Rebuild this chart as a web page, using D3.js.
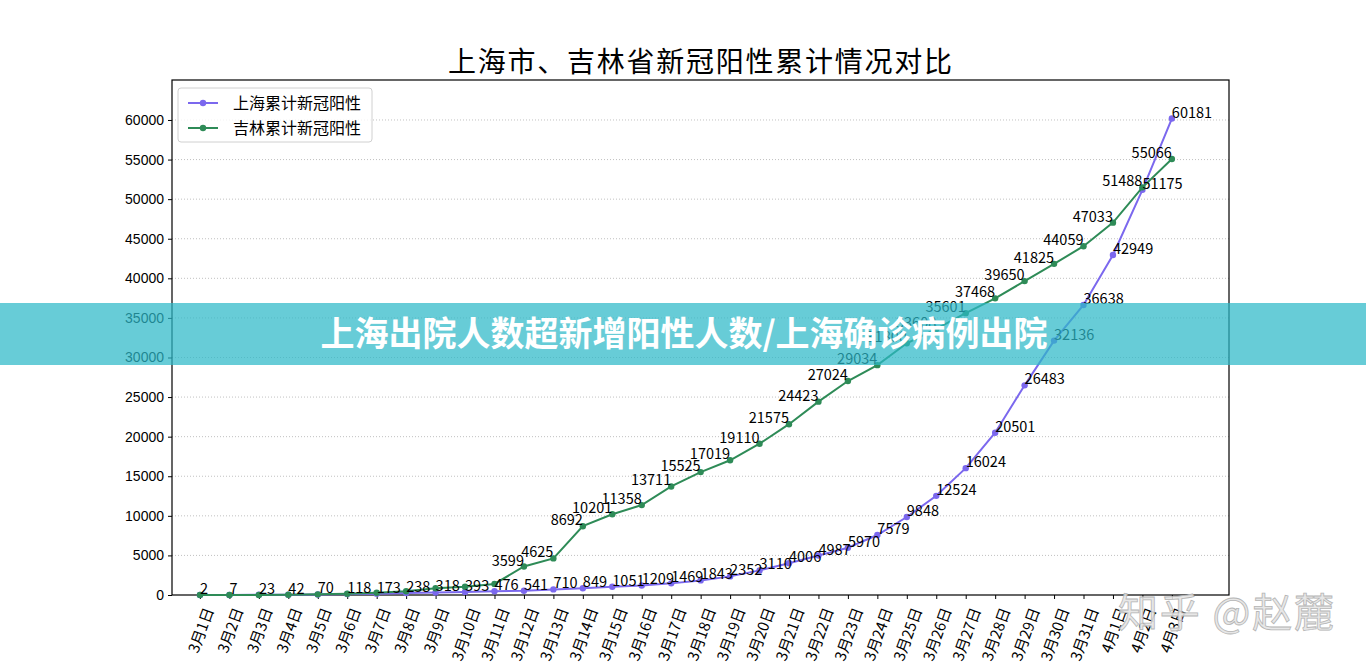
<!DOCTYPE html>
<html>
<head>
<meta charset="utf-8">
<script src="https://cdn.jsdelivr.net/npm/d3@7"></script>
<style>
  html, body { margin: 0; padding: 0; background: #fff; }
  svg { display: block; font-family: "Noto Sans CJK SC", "Noto Sans", sans-serif; }
</style>
</head>
<body>
<svg id="chart" width="1366" height="669"></svg>
<script>
// 날짜 라벨
const dates = ['3月1日','3月2日','3月3日','3月4日','3月5日','3月6日','3月7日','3月8日','3月9日','3月10日',
  '3月11日','3月12日','3月13日','3月14日','3月15日','3月16日','3月17日','3月18日','3月19日','3月20日',
  '3月21日','3月22日','3月23日','3月24日','3月25日','3月26日','3月27日','3月28日','3月29日','3月30日',
  '3月31日','4月1日','4月2日','4月3日'];

const shanghai = [2, 7, 23, 42, 70, 118, 173, 238, 318, 393, 476, 541, 710, 849, 1051, 1209, 1469, 1843,
  2352, 3110, 4006, 4987, 5970, 7579, 9848, 12524, 16024, 20501, 26483, 32136, 36638, 42949, 51175, 60181];

// 초반 값은 그림에서 추정 (라벨 없음)
const jilin = [0, 2, 8, 30, 80, 150, 280, 480, 850, 1050, 1400, 3599, 4625, 8692, 10201, 11358, 13711,
  15525, 17019, 19110, 21575, 24423, 27024, 29034, 31800, 33608, 35601, 37468, 39650, 41825, 44059,
  47033, 51488, 55066];
const jilinLabelFrom = 11;

const yTicks = [0, 5000, 10000, 15000, 20000, 25000, 30000, 35000, 40000, 45000, 50000, 55000, 60000];

const seriesNames = ['上海累计新冠阳性', '吉林累计新冠阳性'];
const colors = ['#7b68ee', '#2e8b57'];

const titleText = '上海市、吉林省新冠阳性累计情况对比';
const bannerText = '上海出院人数超新增阳性人数/上海确诊病例出院';

const W = 1366, H = 669;
const plot = { left: 172, right: 1229, top: 80, bottom: 595 };

const svg = d3.select('#chart');
svg.append('rect').attr('width', W).attr('height', H).attr('fill', '#fff');

const x = d3.scaleLinear().domain([-0.95, dates.length - 1 + 1.94]).range([plot.left, plot.right]);
const y = d3.scaleLinear().domain([0, 65050]).range([plot.bottom, plot.top]);

// title
svg.append('text').attr('x', 700).attr('y', 72).attr('text-anchor', 'middle')
  .attr('font-size', 28).attr('fill', '#000')
  .attr('textLength', 504).attr('lengthAdjust', 'spacing')
  .text(titleText);

// grid
svg.append('g').selectAll('line').data(yTicks.filter(function (d) { return d > 0; })).join('line')
  .attr('x1', plot.left).attr('x2', plot.right)
  .attr('y1', function (d) { return y(d); }).attr('y2', function (d) { return y(d); })
  .attr('stroke', '#b0b0b0').attr('stroke-width', 0.8).attr('stroke-dasharray', '1,2');

// y axis
const yAxis = svg.append('g').attr('transform', 'translate(' + plot.left + ',0)')
  .call(d3.axisLeft(y).tickValues(yTicks).tickSize(4).tickPadding(4).tickFormat(d3.format('d')));
yAxis.select('.domain').remove();
yAxis.selectAll('text').attr('font-size', 14).attr('fill', '#000').attr('font-family', 'inherit');
yAxis.selectAll('line').attr('stroke', '#000');

// x axis
const xAxis = svg.append('g').attr('transform', 'translate(0,' + plot.bottom + ')')
  .call(d3.axisBottom(x).tickValues(d3.range(dates.length)).tickSize(4).tickFormat(''));
xAxis.select('.domain').remove();
xAxis.selectAll('line').attr('stroke', '#000');

const xl = svg.append('g').selectAll('text').data(dates).join('text')
  .attr('font-size', 15).attr('fill', '#000')
  .attr('text-anchor', 'end').attr('dominant-baseline', 'central')
  .text(function (d) { return d; });
xl.attr('transform', function (d, i) {
  const L = this.getComputedTextLength();
  return 'translate(' + (x(i) + 0.171 * L) + ',' + (plot.bottom + 13) + ') rotate(-70)';
});

// frame
svg.append('rect').attr('x', plot.left).attr('y', plot.top)
  .attr('width', plot.right - plot.left).attr('height', plot.bottom - plot.top)
  .attr('fill', 'none').attr('stroke', '#000').attr('stroke-width', 1.2);

// lines
const line = d3.line().x(function (d, i) { return x(i); }).y(function (d) { return y(d); });
[shanghai, jilin].forEach(function (vals, k) {
  svg.append('path').datum(vals).attr('d', line)
    .attr('fill', 'none').attr('stroke', colors[k]).attr('stroke-width', 2);
  svg.append('g').selectAll('circle').data(vals).join('circle')
    .attr('cx', function (d, i) { return x(i); }).attr('cy', function (d) { return y(d); })
    .attr('r', 3.2).attr('fill', colors[k]);
});

// data labels
svg.append('g').selectAll('text').data(shanghai).join('text')
  .attr('x', function (d, i) { return x(i); }).attr('y', function (d) { return y(d) - 1; })
  .attr('font-size', 14.5).attr('fill', '#000')
  .text(function (d) { return d; });
svg.append('g').selectAll('text').data(jilin.slice(jilinLabelFrom)).join('text')
  .attr('x', function (d, i) { return x(i + jilinLabelFrom); }).attr('y', function (d) { return y(d) - 1; })
  .attr('text-anchor', 'end').attr('font-size', 14.5).attr('fill', '#000')
  .text(function (d) { return d; });

// legend
const lg = svg.append('g').attr('transform', 'translate(178,88)');
lg.append('rect').attr('width', 194).attr('height', 54).attr('rx', 3)
  .attr('fill', '#fff').attr('fill-opacity', 0.8).attr('stroke', '#d0d0d0');
seriesNames.forEach(function (name, k) {
  const ly = 15 + k * 25;
  lg.append('line').attr('x1', 10).attr('x2', 40).attr('y1', ly).attr('y2', ly)
    .attr('stroke', colors[k]).attr('stroke-width', 2);
  lg.append('circle').attr('cx', 25).attr('cy', ly).attr('r', 3.2).attr('fill', colors[k]);
  lg.append('text').attr('x', 55).attr('y', ly).attr('dy', '0.35em')
    .attr('font-size', 16).attr('fill', '#000').text(name);
});

// banner overlay
svg.append('rect').attr('x', 0).attr('y', 303).attr('width', W).attr('height', 62)
  .attr('fill', 'rgb(45,185,200)').attr('fill-opacity', 0.72);
svg.append('text').attr('x', 684).attr('y', 334).attr('dy', '0.36em').attr('text-anchor', 'middle')
  .attr('font-size', 34).attr('font-weight', 'bold').attr('fill', '#fff')
  .text(bannerText);

// watermark
svg.append('text').attr('x', 1118).attr('y', 627)
  .attr('font-size', 40).attr('fill', '#e4e4e4').attr('fill-opacity', 0.9)
  .attr('stroke', '#b5b5b5').attr('stroke-width', 0.8)
  .attr('textLength', 216).attr('lengthAdjust', 'spacing')
  .text('知乎 @赵麓');
</script>
</body>
</html>
